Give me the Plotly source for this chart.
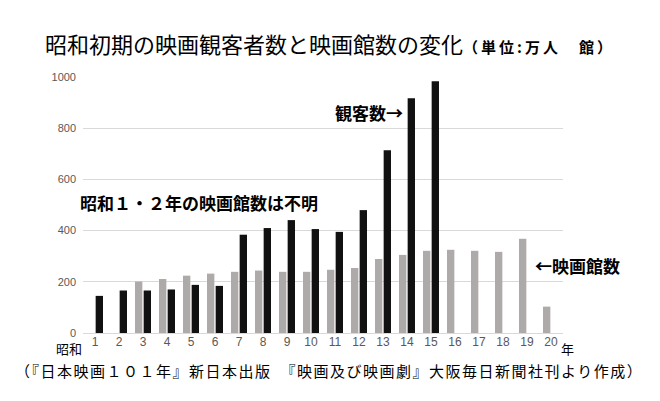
import plotly.graph_objects as go

# 昭和 年 (1..20)
years = list(range(1, 21))

# 映画館数 (館) - 昭和1・2年は不明
theaters = [None, None, 201, 211, 224, 232, 239, 244, 239, 239,
            247, 254, 289, 305, 321, 325, 321, 317, 368, 103]

# 観客数 (万人) - 昭和16年以降なし
audience = [145, 166, 166, 170, 188, 184, 384, 410, 441, 406,
            395, 480, 714, 917, 983, None, None, None, None, None]

fig = go.Figure()

fig.add_trace(go.Bar(x=years, y=theaters, name="映画館数",
                     marker=dict(color="#aeaaaa", line_width=0)))
fig.add_trace(go.Bar(x=years, y=audience, name="観客数",
                     marker=dict(color="#111111", line_width=0)))

jp = "Noto Sans CJK JP"

fig.update_layout(
    width=660, height=401,
    margin=dict(l=83, r=97, t=77, b=68),
    paper_bgcolor="white", plot_bgcolor="white",
    barmode="group", bargap=0.28, bargroupgap=0.15,
    showlegend=False,
    font=dict(family=jp, color="#000000"),
    title=dict(
        text="昭和初期の映画観客者数と映画館数の変化"
             "<span style='font-size:15px;font-weight:bold;letter-spacing:3px'>"
             "（単位:万人　館）</span>",
        x=0.5, xref="container", xanchor="center",
        y=1 - 45 / 401, yref="container", yanchor="middle",
        font=dict(family=jp, size=22, color="#000000"),
    ),
)

fig.update_xaxes(
    range=[0.5, 20.5], tickmode="array", tickvals=years,
    ticktext=[str(v) for v in years],
    tickfont=dict(family="Liberation Sans", size=12, color="#595959"),
    showgrid=False, showline=False, zeroline=False, ticks="",
)
fig.update_yaxes(
    range=[0, 1000], tickvals=[0, 200, 400, 600, 800, 1000],
    tickfont=dict(family="Liberation Sans", size=11, color="#595959"),
    showgrid=True, gridcolor="#d9d9d9", gridwidth=1,
    zeroline=True, zerolinecolor="#d9d9d9", zerolinewidth=1,
    showline=False, ticks="", ticklabelstandoff=6,
)

# convert pixel positions to paper coords for the text labels
pw, ph = 660 - 83 - 97, 401 - 77 - 68


def px_to_paper(xp, yp):
    return (xp - 83) / pw, (401 - 68 - yp) / ph


bold = dict(family=jp, size=17, color="#000000", weight="bold")
for label, (xp, yp) in [("観客数→", (333, 112)),
                        ("昭和１・２年の映画館数は不明", (78, 202)),
                        ("←映画館数", (533, 265))]:
    ax, ay = px_to_paper(xp, yp)
    fig.add_annotation(text=label, x=ax, y=ay, xref="paper", yref="paper",
                       showarrow=False, xanchor="left", yanchor="middle",
                       font=bold)

fig.add_annotation(text="昭和", xref="paper", yref="paper",
                   x=px_to_paper(84, 0)[0], y=px_to_paper(0, 348)[1],
                   showarrow=False, xanchor="right", yanchor="middle",
                   font=dict(family=jp, size=13, color="#000000"))
fig.add_annotation(text="年", xref="paper", yref="paper",
                   x=px_to_paper(559, 0)[0], y=px_to_paper(0, 348)[1],
                   showarrow=False, xanchor="left", yanchor="middle",
                   font=dict(family=jp, size=13, color="#000000"))
fig.add_annotation(text="<span style='letter-spacing:1.5px'>"
                        "（『日本映画１０１年』新日本出版　『映画及び映画劇』大阪毎日新聞社刊より作成）"
                        "</span>",
                   xref="paper", yref="paper",
                   x=px_to_paper(329, 0)[0], y=px_to_paper(0, 370)[1],
                   showarrow=False, xanchor="center", yanchor="middle",
                   font=dict(family=jp, size=15, color="#000000"))

# drop the default page margin so the figure sits at the window corner
fig.write_html("out.html",
               config={"displayModeBar": False},
               post_script="document.body.style.margin='0';")
